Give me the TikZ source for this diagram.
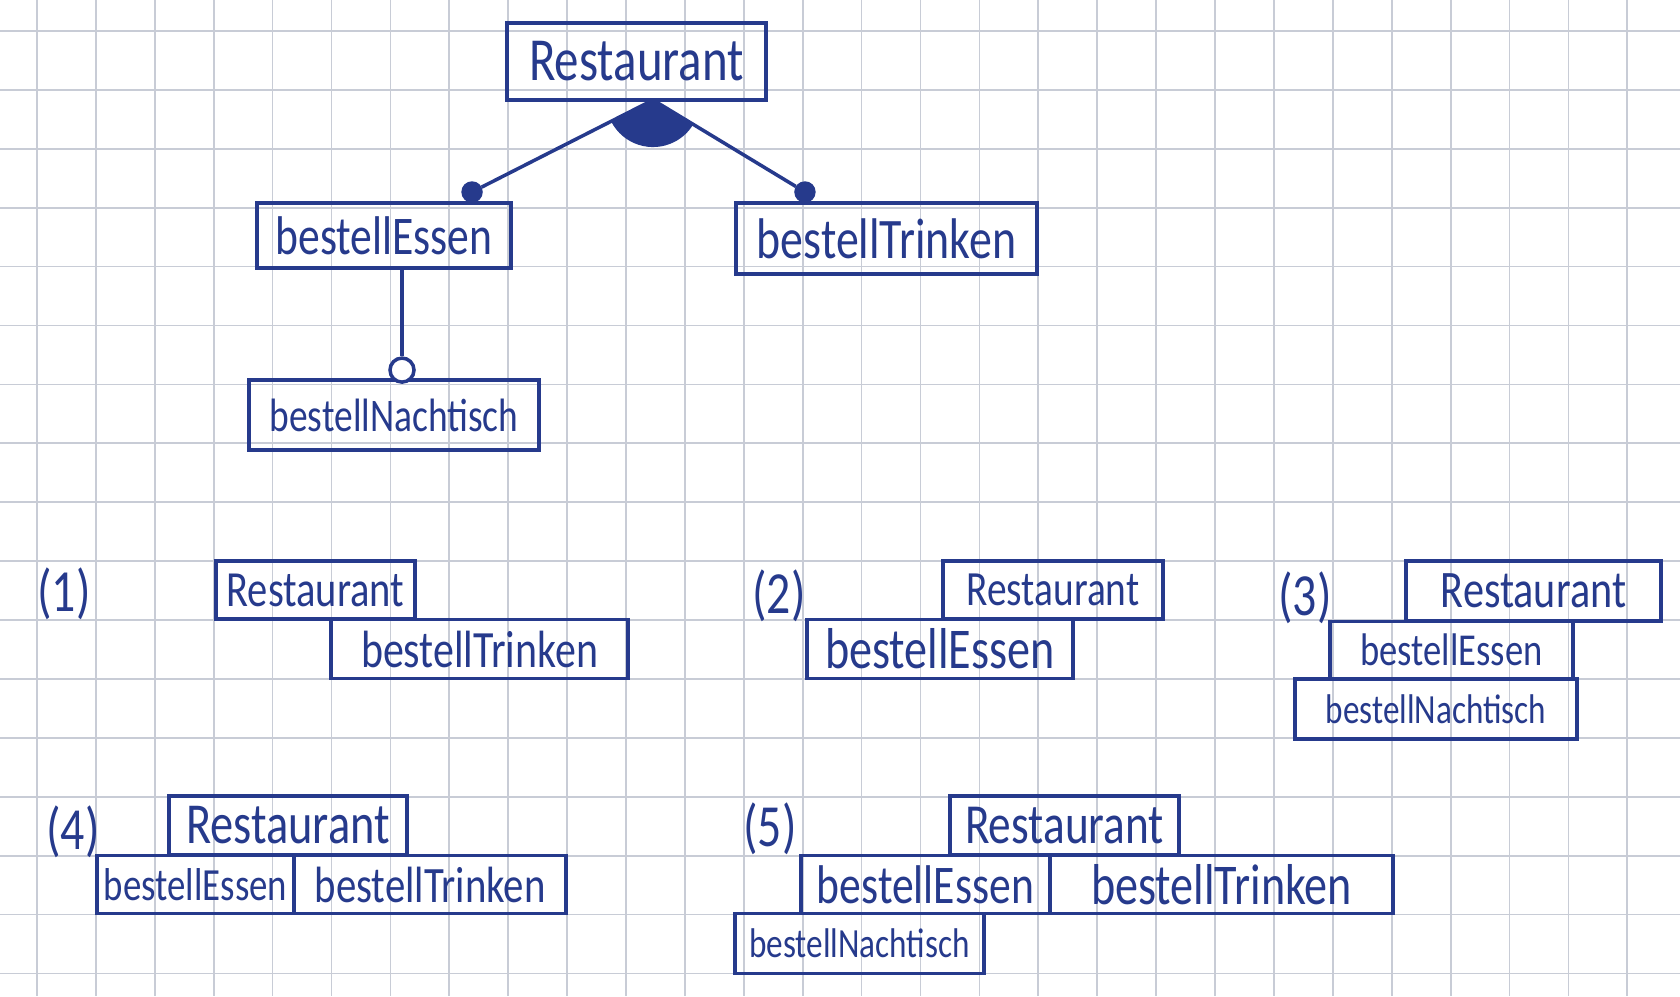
\documentclass[tikz,border=0pt]{standalone}
\usepackage{fontspec}
\newfontfamily\handfont[FakeStretch=0.8]{Carlito}
\usepackage{tikz}
\usetikzlibrary{positioning}
\definecolor{ink}{RGB}{38,58,140}
\definecolor{paperline}{RGB}{200,204,214}
\tikzstyle{feature} = [rectangle, draw=ink, line width=1pt, text=ink, inner sep=0pt, outer sep=0pt]
\tikzstyle{link} = [draw=ink, line width=1pt]
\tikzset{
	hw/.style = {font=\handfont\fontsize{#1}{#1}\selectfont},
	mandatory/.style = {circle, draw=ink, fill=ink, inner sep=0pt, minimum size=0.2cm},
	optional/.style = {circle, draw=ink, fill=white, line width=1pt, inner sep=0pt, minimum size=0.24cm},
	paper/.style = {draw=paperline, line width=0.5pt},
	casenum/.style = {text=ink, hw=17}
}

\begin{document}
\begin{tikzpicture}[x=0.01cm, y=-0.01cm, node distance=0.59cm]
\useasboundingbox (0,0) rectangle (1680,996);
%----------------------------------------------------------------------------
% Squared paper
\foreach \gx in {0,...,27} \draw[paper] ({37+58.9*\gx},0) -- ({37+58.9*\gx},996);
\foreach \gy in {0,...,16} \draw[paper] (0,{31+58.9*\gy}) -- (1680,{31+58.9*\gy});

%----------------------------------------------------------------------------
% Feature tree
\node (restaurant) [feature, hw=17.4, minimum width=2.59cm, minimum height=0.77cm] at (636.5,61.5) {Restaurant};
\node (essen) [feature, hw=15.5, minimum width=2.54cm, minimum height=0.65cm] at (384,235.5) {bestellEssen};
\node (trinken) [feature, hw=16.3, minimum width=3.01cm, minimum height=0.71cm] at (886.5,238.5) {bestellTrinken};
\node (nachtisch) [feature, hw=13.3, minimum width=2.9cm, minimum height=0.7cm, below of = essen, node distance=1.795cm, xshift=0.1cm] {bestellNachtisch};

\node (essenDot) [mandatory] at ([xshift=0.88cm, yshift=0.11cm]essen.north) {};
\node (trinkenDot) [mandatory] at ([xshift=-0.815cm, yshift=0.11cm]trinken.north) {};
\node (nachtischOpt) [optional] at ([xshift=0.08cm, yshift=0.1cm]nachtisch.north) {};
\coordinate (orApex) at ([xshift=0.165cm]restaurant.south);

%----------------------------------------------------------------------------
% Lines
\fill[ink] (orApex) -- +(-153:0.47cm) arc[start angle=-153, end angle=-31, radius=0.47cm] -- cycle;
\draw [link] (orApex) -- (essenDot);
\draw [link] (orApex) -- (trinkenDot);
\draw [link] (nachtischOpt) -- (nachtischOpt |- essen.south);

%----------------------------------------------------------------------------
% Configurations
\node (num1) [casenum] at (64,594) {(1)};
\node (restaurant1) [feature, hw=14.4, minimum width=1.99cm, minimum height=0.58cm] at (315.5,590) {Restaurant};
\node (trinken1) [feature, hw=14.9, minimum width=2.97cm, minimum height=0.59cm, below of = restaurant1, xshift=1.64cm] {bestellTrinken};

\node (num2) [casenum] at (779,596) {(2)};
\node (restaurant2) [feature, hw=14, minimum width=2.2cm, minimum height=0.58cm] at (1053,590) {Restaurant};
\node (essen2) [feature, hw=16.4, minimum width=2.66cm, minimum height=0.59cm, below of = restaurant2, xshift=-1.13cm] {bestellEssen};

\node (num3) [casenum] at (1305,598) {(3)};
\node (restaurant3) [feature, hw=15, minimum width=2.55cm, minimum height=0.6cm] at (1533.5,591) {Restaurant};
\node (essen3) [feature, hw=13, minimum width=2.43cm, minimum height=0.57cm, below of = restaurant3, xshift=-0.82cm] {bestellEssen};
\node (nachtisch3) [feature, hw=11.8, minimum width=2.82cm, minimum height=0.6cm, below of = essen3, xshift=-0.155cm] {bestellNachtisch};

\node (num4) [casenum] at (73,832) {(4)};
\node (restaurant4) [feature, hw=16.5, minimum width=2.38cm, minimum height=0.59cm] at (288,825.5) {Restaurant};
\node (essen4) [feature, hw=13.1, minimum width=1.97cm, minimum height=0.58cm, below of = restaurant4, xshift=-0.925cm] {bestellEssen};
\node (trinken4) [feature, hw=14.5, minimum width=2.72cm, minimum height=0.58cm, right of = essen4, node distance=2.345cm] {bestellTrinken};

\node (num5) [casenum] at (770,829) {(5)};
\node (restaurant5) [feature, hw=16.1, minimum width=2.29cm, minimum height=0.59cm] at (1064.5,825.5) {Restaurant};
\node (essen5) [feature, hw=15.5, minimum width=2.49cm, minimum height=0.58cm, below of = restaurant5, xshift=-1.39cm] {bestellEssen};
\node (trinken5) [feature, hw=16.4, minimum width=3.43cm, minimum height=0.58cm, right of = essen5, node distance=2.96cm] {bestellTrinken};
\node (nachtisch5) [feature, hw=11.8, minimum width=2.49cm, minimum height=0.6cm, below of = essen5, xshift=-0.66cm] {bestellNachtisch};
\end{tikzpicture}
\end{document}
